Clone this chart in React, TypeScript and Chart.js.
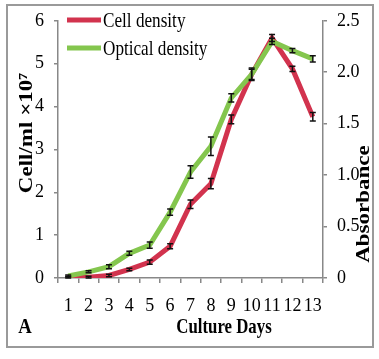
import React, { useEffect, useRef } from "react";
import { Chart, registerables } from "chart.js";

Chart.register(...registerables);

const days = ["1", "2", "3", "4", "5", "6", "7", "8", "9", "10", "11", "12", "13"];
const cellDensity = [0.02, 0.02, 0.06, 0.2, 0.37, 0.74, 1.72, 2.2, 3.7, 4.75, 5.6, 4.88, 3.76];
const cellErr = [0.02, 0.02, 0.03, 0.03, 0.05, 0.06, 0.1, 0.12, 0.1, 0.12, 0.08, 0.06, 0.1];
const opticalDensity = [0.02, 0.06, 0.11, 0.24, 0.32, 0.64, 1.03, 1.28, 1.75, 1.98, 2.3, 2.21, 2.13];
const opticalErr = [0.01, 0.01, 0.02, 0.02, 0.03, 0.03, 0.06, 0.09, 0.04, 0.06, 0.03, 0.02, 0.03];

const RED = "#d2334e";
const GREEN = "#84c64e";
const SERIF = "'Liberation Serif', 'Times New Roman', serif";

function drawText(
  ctx: CanvasRenderingContext2D,
  text: string,
  x: number,
  y: number,
  font: string,
  sx: number,
  align: CanvasTextAlign,
  rot = 0,
  sy = 1
) {
  ctx.save();
  ctx.translate(x, y);
  if (rot) ctx.rotate(rot);
  ctx.scale(sx, sy);
  ctx.font = font;
  ctx.fillStyle = "#000";
  ctx.textAlign = align;
  ctx.textBaseline = "middle";
  ctx.fillText(text, 0, 0);
  ctx.restore();
}

const decorPlugin = {
  id: "decor",
  beforeDraw(chart: any) {
    const ctx = chart.ctx as CanvasRenderingContext2D;
    ctx.save();
    ctx.fillStyle = "#fff";
    ctx.fillRect(0, 0, chart.width, chart.height);
    ctx.strokeStyle = "#9a9a9a";
    ctx.lineWidth = 2;
    ctx.strokeRect(7, 5, 366, 342);
    ctx.restore();
  },
  afterDatasetsDraw(chart: any) {
    const ctx = chart.ctx as CanvasRenderingContext2D;
    const errs = [cellErr, opticalErr];
    chart.data.datasets.forEach((ds: any, di: number) => {
      const meta = chart.getDatasetMeta(di);
      const scale = chart.scales[ds.yAxisID];
      ctx.save();
      ctx.strokeStyle = "#111";
      ctx.lineWidth = 1.5;
      meta.data.forEach((pt: any, i: number) => {
        const v = ds.data[i];
        const e = errs[di][i];
        const x = pt.x;
        const y1 = scale.getPixelForValue(v - e);
        const y2 = scale.getPixelForValue(v + e);
        ctx.beginPath();
        ctx.moveTo(x, y1);
        ctx.lineTo(x, y2);
        ctx.moveTo(x - 3, y1);
        ctx.lineTo(x + 3, y1);
        ctx.moveTo(x - 3, y2);
        ctx.lineTo(x + 3, y2);
        ctx.stroke();
      });
      ctx.restore();
    });
  },
  afterDraw(chart: any) {
    const ctx = chart.ctx as CanvasRenderingContext2D;
    const items = [
      { label: "Cell density", color: RED, y: 20 },
      { label: "Optical density", color: GREEN, y: 48 },
    ];
    items.forEach((it) => {
      ctx.save();
      ctx.strokeStyle = it.color;
      ctx.lineWidth = 5;
      ctx.beginPath();
      ctx.moveTo(67, it.y);
      ctx.lineTo(101, it.y);
      ctx.stroke();
      ctx.restore();
      drawText(ctx, it.label, 103, it.y + 1, `22px ${SERIF}`, 0.78, "left");
    });
    drawText(ctx, "Cell/ml ×10⁷", 27, 133, `bold 23px ${SERIF}`, 1, "center", -Math.PI / 2, 0.85);
    drawText(ctx, "Absorbance", 364, 204, `bold 23px ${SERIF}`, 1, "center", -Math.PI / 2, 0.85);
    drawText(ctx, "Culture Days", 224, 328, `bold 21px ${SERIF}`, 0.8, "center");
    drawText(ctx, "A", 25, 327, `bold 22px ${SERIF}`, 0.85, "center");
  },
};

export default function App() {
  const ref = useRef<HTMLCanvasElement | null>(null);
  useEffect(() => {
    if (!ref.current) return;
    const tickFont = { family: SERIF, size: 18 };
    const chart = new Chart(ref.current, {
      type: "line",
      data: {
        labels: days,
        datasets: [
          {
            label: "Cell density",
            data: cellDensity,
            borderColor: RED,
            backgroundColor: RED,
            borderWidth: 5,
            pointRadius: 0,
            yAxisID: "y",
            order: 1,
            tension: 0,
          },
          {
            label: "Optical density",
            data: opticalDensity,
            borderColor: GREEN,
            backgroundColor: GREEN,
            borderWidth: 5,
            pointRadius: 0,
            yAxisID: "y1",
            order: 0,
            tension: 0,
          },
        ],
      },
      options: {
        animation: false,
        responsive: false,
        maintainAspectRatio: false,
        layout: { padding: { top: 20, left: 0, right: 0, bottom: 0 } },
        plugins: { legend: { display: false }, tooltip: { enabled: false } },
        scales: {
          x: {
            type: "category",
            offset: true,
            grid: { display: true, drawOnChartArea: false, tickLength: 5, color: "#888", offset: true, lineWidth: 1.5 },
            border: { color: "#888", width: 1.5 },
            ticks: { font: tickFont, color: "#000", padding: 12, maxRotation: 0, autoSkip: false },
            afterFit: (s: any) => {
              s.height = 81;
            },
          },
          y: {
            position: "left",
            min: 0,
            max: 6,
            ticks: { stepSize: 1, font: tickFont, color: "#000", padding: 10 },
            grid: { display: true, drawOnChartArea: false, tickLength: 4, color: "#888", lineWidth: 1.5 },
            border: { color: "#888", width: 1.5 },
            afterFit: (s: any) => {
              s.width = 58;
            },
          },
          y1: {
            position: "right",
            min: 0,
            max: 2.5,
            ticks: { stepSize: 0.5, font: tickFont, color: "#000", padding: 10 },
            grid: { display: true, drawOnChartArea: false, tickLength: 4, color: "#888", lineWidth: 1.5 },
            border: { color: "#888", width: 1.5 },
            afterFit: (s: any) => {
              s.width = 56;
            },
          },
        },
      },
      plugins: [decorPlugin],
    } as any);
    return () => chart.destroy();
  }, []);
  return (
    <div style={{ position: "fixed", left: 0, top: 0, width: 379, height: 359, background: "#fff" }}>
      <canvas ref={ref} width={379} height={359} style={{ display: "block", width: 379, height: 359 }} />
    </div>
  );
}
